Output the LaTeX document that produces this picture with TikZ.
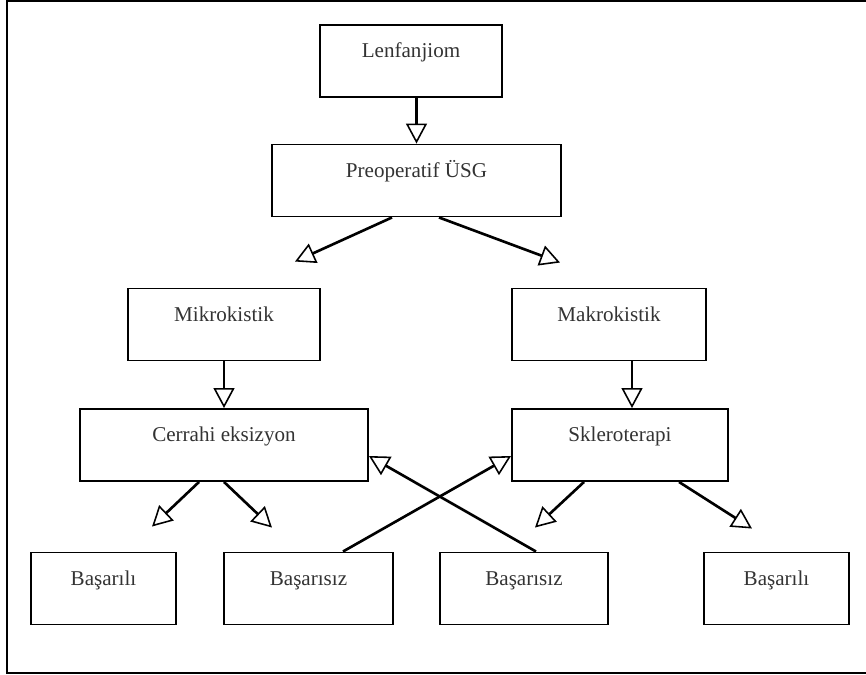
\documentclass[tikz,border=0pt]{standalone}
\usepackage{fontspec}
\setmainfont{Liberation Serif}
\usetikzlibrary{positioning, calc, arrows.meta}
\tikzset{
	box/.style n args={1}{
		draw, % Draw a border
		rectangle, % Shape of the node
		line width=1.1pt,
		inner sep=0pt,
		minimum width=#1, % Width of the node
		text height=0.66cm, % Baseline sits below the top edge
		text depth=0.78cm,
		font=\fontsize{12}{14}\selectfont,
		text=black!80
	},
	flow/.style={
		line width=1.5pt,
		-{Triangle[open, length=0.4cm, width=0.42cm, line width=0.9pt]}
	}
}

\begin{document}
\begin{tikzpicture}[x=0.02cm, y=-0.02cm]
	\useasboundingbox (0,0) rectangle (866,675);
	% outer frame
	\draw[line width=1.1pt] (870,1) -- (7,1) -- (7,673) -- (870,673);
	
	\node[box=3.64cm] (len) at (411,61) {Lenfanjiom};
	\node[box=5.78cm] (pre) at (416.5,180.5) {Preoperatif ÜSG};
	\draw[flow] (pre.north |- len.south) -- (pre.north);
	
	\node[box=3.84cm] (mik) at (224,324.5) {Mikrokistik};
	\node[box=3.88cm] (mak) at (609,324.5) {Makrokistik};
	\draw[flow] ($(pre.south)+(-24.5,0)$) -- ($(mik.north)+(71,-26)$);
	\draw[flow] ($(pre.south)+(22.5,0)$) -- ($(mak.north)+(-49,-25)$);
	
	\node[box=5.76cm] (cer) at (224,445) {Cerrahi eksizyon};
	\node[box=4.32cm] (skl) at (620,445) {Skleroterapi};
	\draw[flow] (mik.south) -- (cer.north);
	\draw[flow] ($(mak.south)+(23,0)$) -- ($(skl.north)+(12,0)$);
	
	\node[box=2.9cm] (bas1) at (103.5,588.5) {Başarılı};
	\node[box=3.38cm] (bas2) at (308.5,588.5) {Başarısız};
	\node[box=3.36cm] (bas3) at (524,588.5) {Başarısız};
	\node[box=2.9cm] (bas4) at (776.5,588.5) {Başarılı};
	\draw[flow] ($(cer.south)+(-25,0)$) -- ($(bas1.north)+(48.5,-25)$);
	\draw[flow] (cer.south) -- ($(bas2.north)+(-36.5,-24)$);
	\draw[flow] ($(skl.south)+(-36,0)$) -- ($(bas3.north)+(11,-24)$);
	\draw[flow] ($(skl.south)+(59,0)$) -- ($(bas4.north)+(-24.5,-23)$);
	
	% crossing arrows back up
	\draw[flow] ($(bas2.north)+(34.5,0)$) -- ($(skl.west)+(0,11)$);
	\draw[flow] ($(bas3.north)+(12,0)$) -- ($(cer.east)+(0,11)$);
	
\end{tikzpicture}
\end{document}
